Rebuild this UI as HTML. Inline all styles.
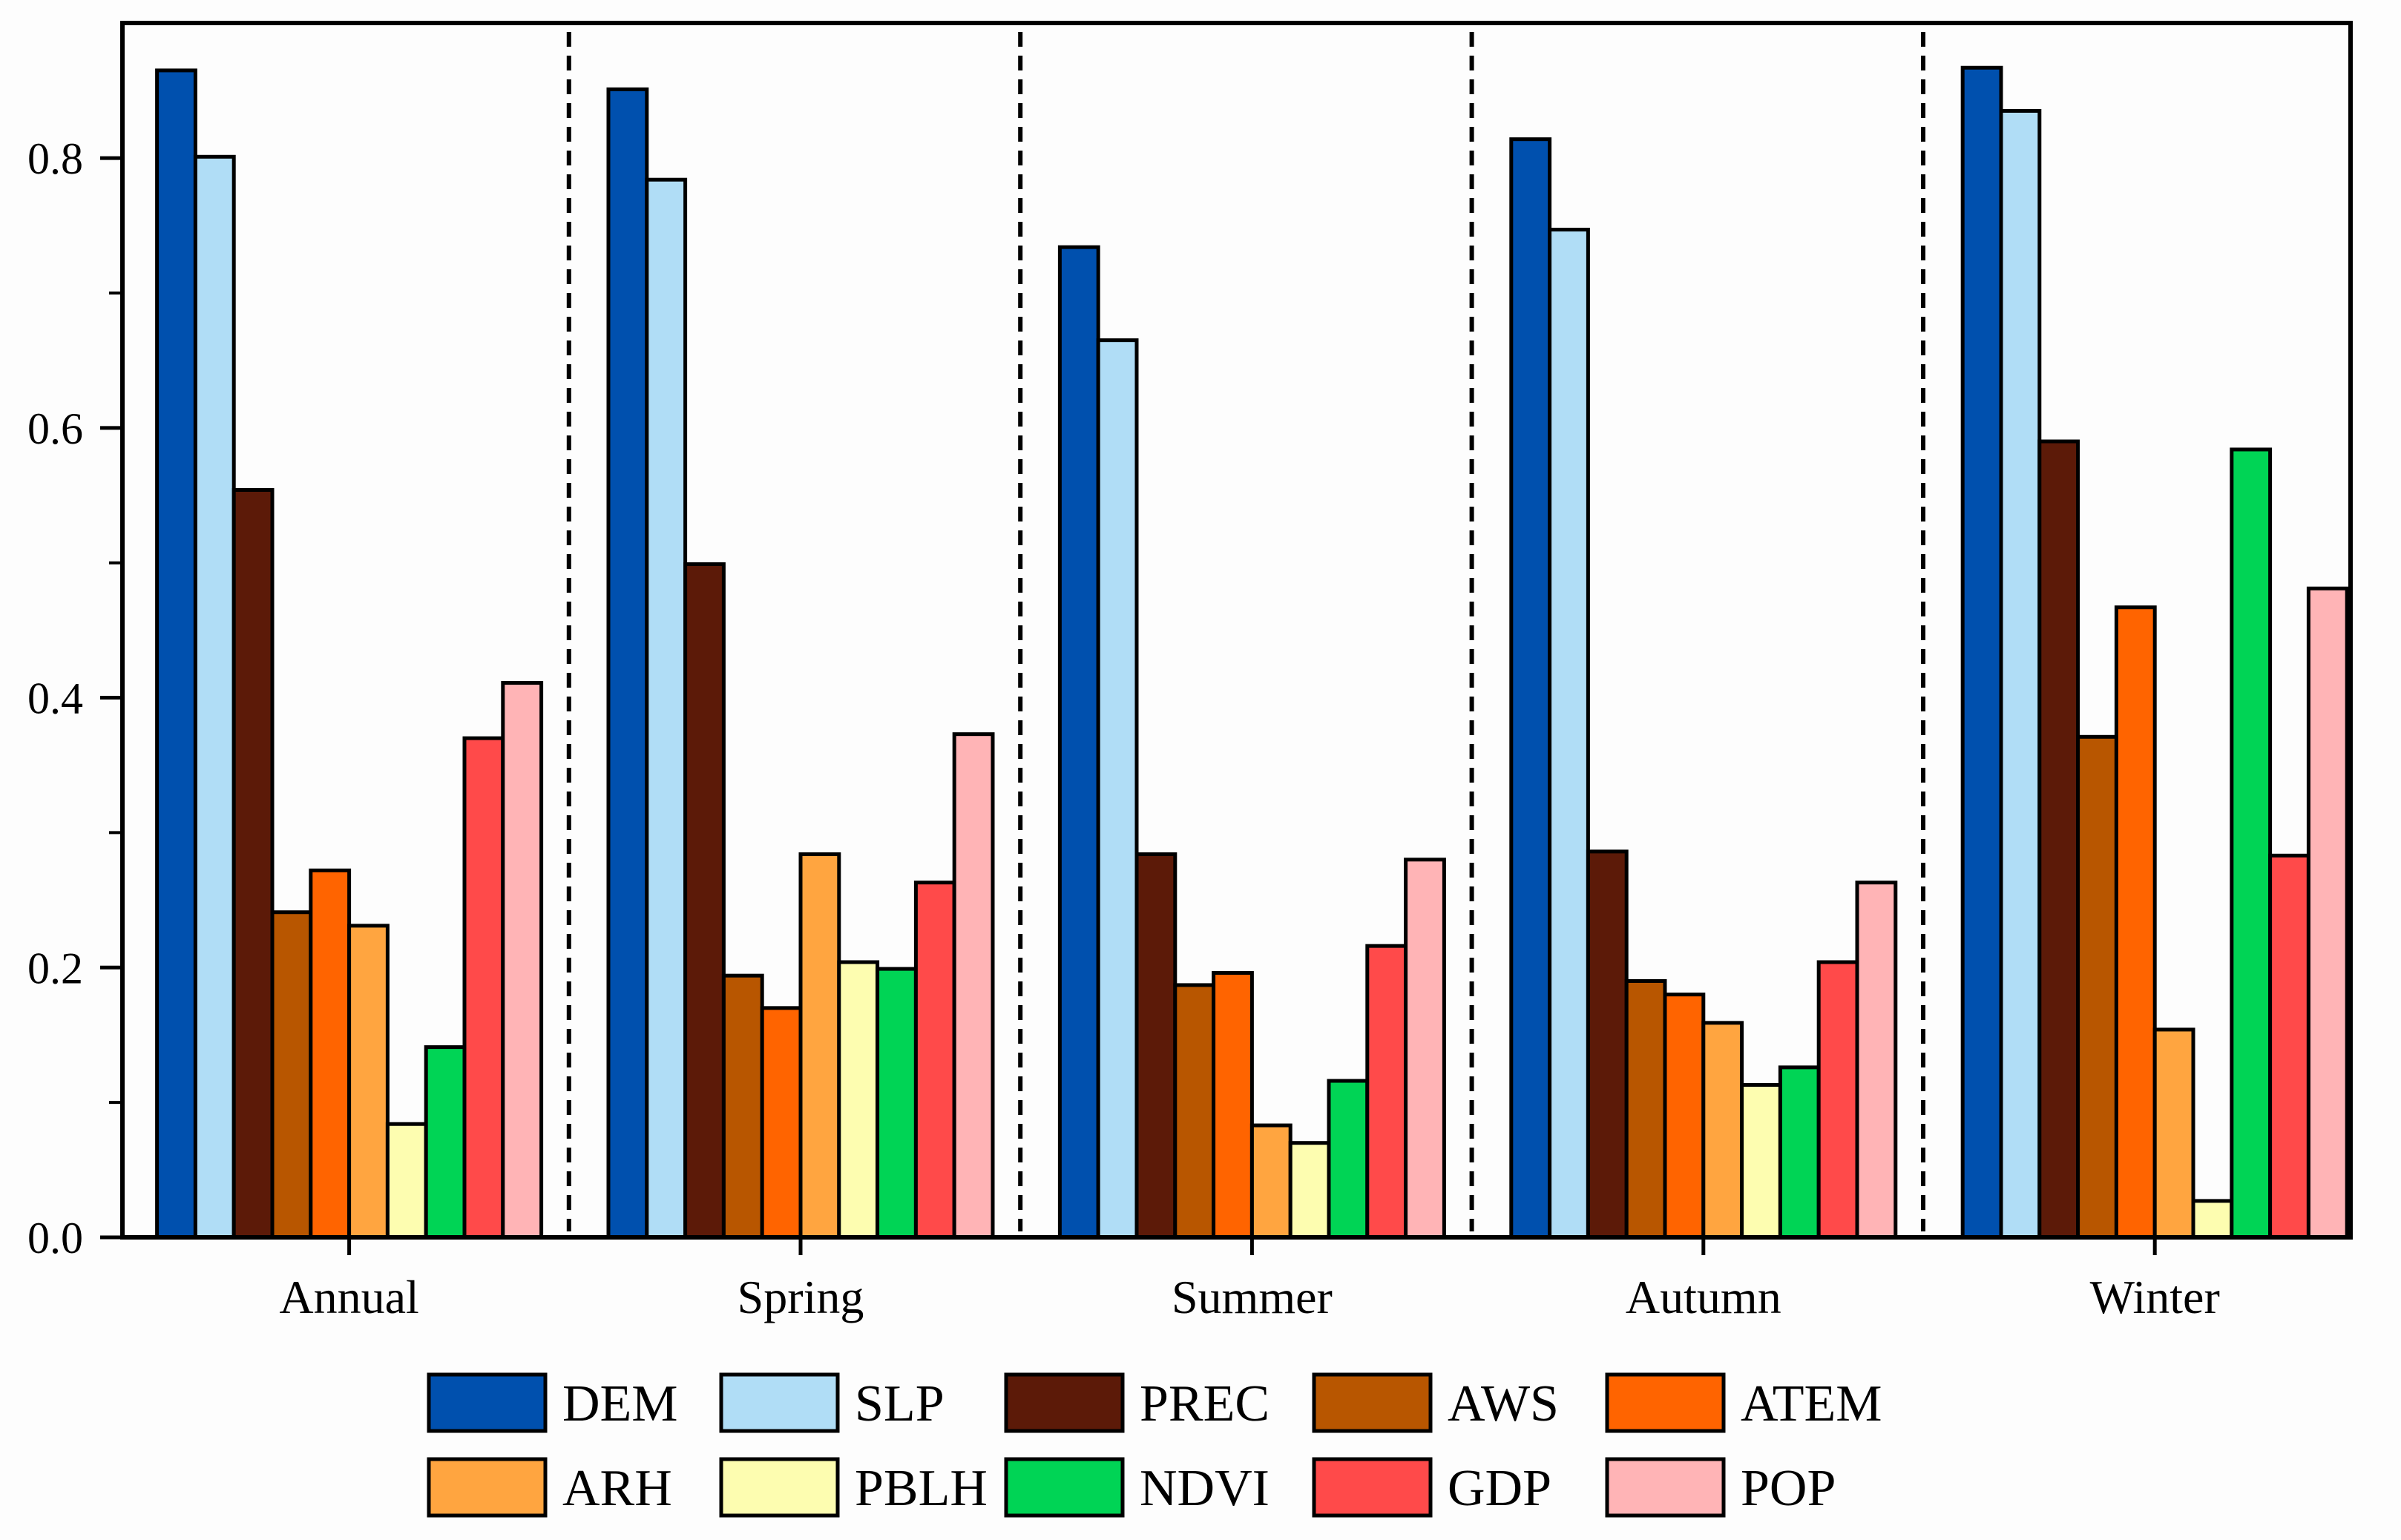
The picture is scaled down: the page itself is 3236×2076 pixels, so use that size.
<!DOCTYPE html>
<html><head><meta charset="utf-8">
<style>
html,body{margin:0;padding:0;background:#fdfdfd;}
svg{display:block;font-family:"Liberation Serif",serif;}
</style></head>
<body>
<svg id="chart" width="3236" height="2076" viewBox="0 0 3236 2076" xmlns="http://www.w3.org/2000/svg">
<rect width="3236" height="2076" fill="#fdfdfd"/>
<g id="bars"></g>
<g id="axes"></g>
<g id="legend"></g>
</svg>
<script>
const categories = ["Annual","Spring","Summer","Autumn","Winter"];
const seriesNames = ["DEM","SLP","PREC","AWS","ATEM","ARH","PBLH","NDVI","GDP","POP"];
const seriesColors = ["#0050ae","#b0ddf6","#5c1a08","#b85600","#ff6400","#ffa540","#fdfdb0","#00d455","#ff4a4a","#ffb4b6"];
const DEM  = [0.865,0.851,0.734,0.814,0.867];
const SLP  = [0.801,0.784,0.665,0.747,0.835];
const PREC = [0.554,0.499,0.284,0.286,0.590];
const AWS  = [0.241,0.194,0.187,0.190,0.371];
const ATEM = [0.272,0.170,0.196,0.180,0.467];
const ARH  = [0.231,0.284,0.083,0.159,0.154];
const PBLH = [0.084,0.204,0.070,0.113,0.027];
const NDVI = [0.141,0.199,0.116,0.126,0.584];
const GDP  = [0.370,0.263,0.216,0.204,0.283];
const POP  = [0.411,0.373,0.280,0.263,0.481];
const seriesValues = [DEM,SLP,PREC,AWS,ATEM,ARH,PBLH,NDVI,GDP,POP];
const yTicks = [0,0.2,0.4,0.6,0.8];
const yTickLabels = ["0.0","0.2","0.4","0.6","0.8"];
const yMinorTicks = [0.1,0.3,0.5,0.7];

const NS="http://www.w3.org/2000/svg";
const L=165,R=3168,T=31,B=1668;
const yMax=(B-T)/1818.6;
function y(v){return B-(v/yMax)*(B-T);}
const groupW=608.4, firstC=470.6;
function xc(i){return firstC+groupW*i;}
const barW=51.8;
function mk(tag,attrs,parent){const e=document.createElementNS(NS,tag);for(const k in attrs)e.setAttribute(k,attrs[k]);parent.appendChild(e);return e;}

const bars=document.getElementById('bars');
categories.forEach((c,i)=>{
  const start=xc(i)-barW*seriesNames.length/2;
  seriesValues.forEach((arr,s)=>{
    const r=mk('rect',{x:start+s*barW,y:y(arr[i]),width:barW,height:B-y(arr[i]),fill:seriesColors[s],stroke:'#000','stroke-width':5},bars);
    
    
  });
});

const axes=document.getElementById('axes');
for(let i=1;i<categories.length;i++){
  const xd=xc(i)-groupW/2-8;
  const d=mk('line',{x1:xd,x2:xd,y1:T+12,y2:B-8,stroke:'#000','stroke-width':6,'stroke-dasharray':'20 12'},axes);
  
  
}
const frame=mk('rect',{x:L,y:T,width:R-L,height:B-T,fill:'none',stroke:'#000','stroke-width':6},axes);


yTicks.forEach((v,k)=>{
  const t=mk('line',{x1:L-30,x2:L,y1:y(v),y2:y(v),stroke:'#000','stroke-width':5},axes);
  
  
  const tx=mk('text',{x:L-53,y:y(v)+21,'font-size':60,'text-anchor':'end',fill:'#000'},axes);
  tx.textContent=yTickLabels[k];
  
  
});
yMinorTicks.forEach(v=>{
  const t=mk('line',{x1:L-18,x2:L,y1:y(v),y2:y(v),stroke:'#000','stroke-width':4},axes);
  
  
});
categories.forEach((c,i)=>{
  const t=mk('line',{x1:xc(i),x2:xc(i),y1:B,y2:B+24,stroke:'#000','stroke-width':5},axes);
  
  
  const tx=mk('text',{x:xc(i),y:1770,'font-size':64,'text-anchor':'middle',fill:'#000'},axes);
  tx.textContent=c;
  
  
});

const legend=document.getElementById('legend');
const legX=[578,972,1356,1771,2166];
const legY=[1853,1967];
seriesNames.forEach((n,s)=>{
  const col=s%5,row=Math.floor(s/5);
  const g=mk('g',{},legend);
  
  
  mk('rect',{x:legX[col],y:legY[row],width:157,height:76,fill:seriesColors[s],stroke:'#000','stroke-width':5},g);
  const tx=mk('text',{x:legX[col]+180,y:legY[row]+62,'font-size':70,fill:'#000'},g);
  tx.textContent=n;
});
</script>
</body></html>
